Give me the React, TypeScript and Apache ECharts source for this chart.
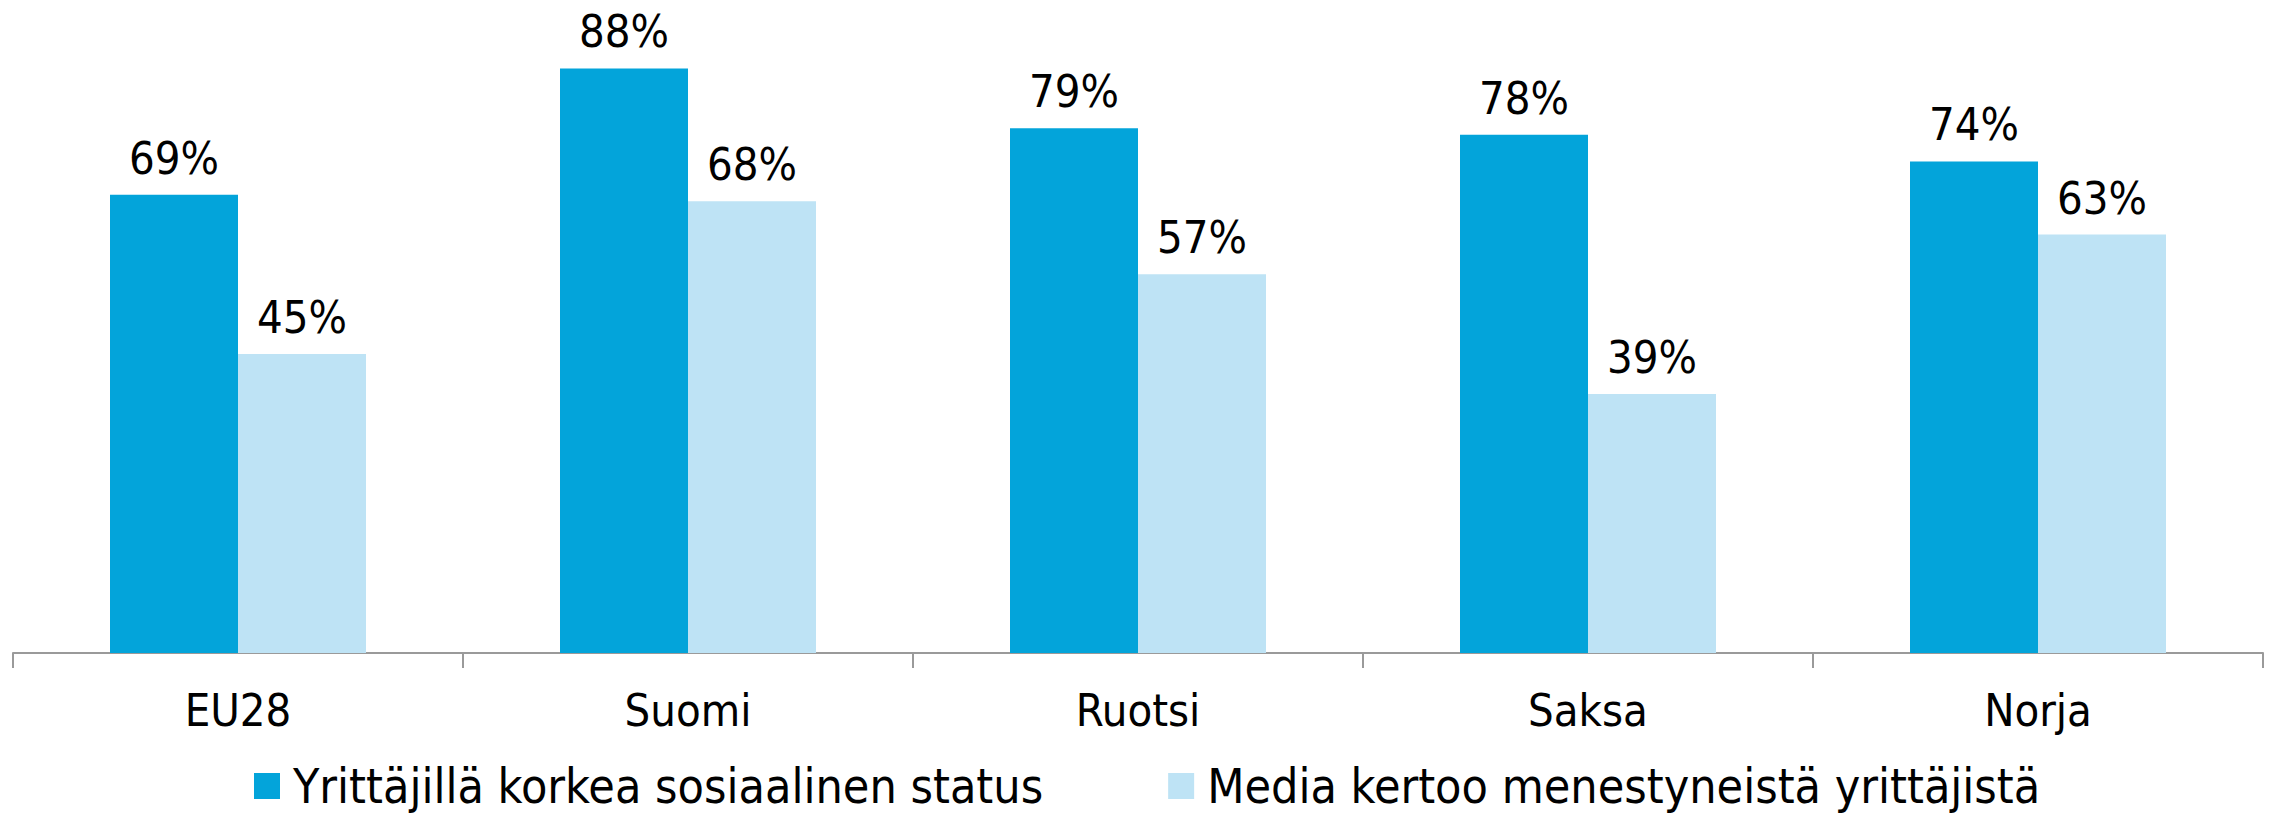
import React, { useEffect, useRef } from "react";
import * as echarts from "echarts";

const categories = ["EU28", "Suomi", "Ruotsi", "Saksa", "Norja"];
const seriesNames = [
  "Yrittäjillä korkea sosiaalinen status",
  "Media kertoo menestyneistä yrittäjistä",
];
const statusValues = [69, 88, 79, 78, 74];
const mediaValues = [45, 68, 57, 39, 63];
const colors = ["#03A4DA", "#BEE3F5"];

const FONT = "'DejaVu Sans Condensed', 'DejaVu Sans', sans-serif";

export default function App() {
  const ref = useRef<HTMLDivElement>(null);
  useEffect(() => {
    if (!ref.current) return;
    const chart = echarts.init(ref.current, null, { renderer: "svg" });
    const label = {
      show: true,
      position: "top",
      distance: 14,
      formatter: "{c}%",
      color: "#000",
      fontFamily: FONT,
      fontSize: 45,
    };
    chart.setOption({
      animation: false,
      backgroundColor: "#fff",
      grid: { left: 13, right: 12, top: 2, bottom: 163, containLabel: false },
      legend: {
        left: 249,
        top: 757,
        itemWidth: 26,
        itemHeight: 26,
        itemGap: 125,
        icon: "rect",
        textStyle: {
          fontFamily: FONT,
          fontSize: 48,
          color: "#000",
          padding: [0, 0, 0, 8],
        },
        data: seriesNames,
      },
      xAxis: {
        type: "category",
        data: categories,
        axisLine: { show: true, lineStyle: { color: "#9a9a9a", width: 2 } },
        axisTick: {
          show: true,
          length: 15,
          lineStyle: { color: "#9a9a9a", width: 2 },
        },
        axisLabel: {
          margin: 35,
          color: "#000",
          fontFamily: FONT,
          fontSize: 45,
        },
      },
      yAxis: {
        type: "value",
        min: 0,
        max: 98,
        show: false,
        splitLine: { show: false },
      },
      series: [
        {
          name: seriesNames[0],
          type: "bar",
          data: statusValues,
          barWidth: 128,
          barGap: "0%",
          itemStyle: { color: colors[0] },
          label,
        },
        {
          name: seriesNames[1],
          type: "bar",
          data: mediaValues,
          barWidth: 128,
          barGap: "0%",
          itemStyle: { color: colors[1] },
          label,
        },
      ],
    });
    return () => chart.dispose();
  }, []);
  return (
    <div
      ref={ref}
      style={{ position: "fixed", left: 0, top: 0, width: 2275, height: 816 }}
    />
  );
}
